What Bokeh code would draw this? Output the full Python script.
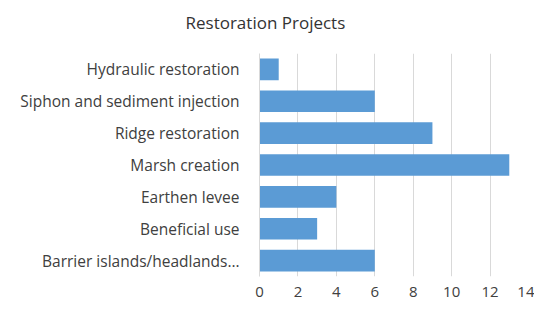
from bokeh.plotting import figure
from bokeh.models import FactorRange, Range1d, FixedTicker, Title
from bokeh.embed import file_html
from bokeh.resources import INLINE

categories = ["Barrier islands/headlands…", "Beneficial use", "Earthen levee",
              "Marsh creation", "Ridge restoration", "Siphon and sediment injection",
              "Hydraulic restoration"]
values = [6, 3, 4, 13, 9, 6, 1]
x_ticks = [0, 2, 4, 6, 8, 10, 12, 14]
title_text = "Restoration Projects"

FONT = "Open Sans"
TXT = "#404040"

p = figure(width=534, height=306, output_backend="svg", toolbar_location=None,
           y_range=FactorRange(*categories, range_padding=0),
           x_range=Range1d(0, 14),
           min_border_left=259, min_border_right=6, min_border_top=53, min_border_bottom=30)

p.hbar(y=categories, right=values, left=0, height=0.68, color="#5B9BD5", line_color=None)

# spacer between frame and title, then the title itself further out
spacer = Title(text=" ", text_font_size="1px", standoff=8)
p.add_layout(spacer, "above")
main_title = Title(text=title_text, align="left", offset=-74, standoff=14,
                   vertical_align="top", text_font=FONT, text_font_size="17px",
                   text_font_style="normal", text_color="#333333")
p.add_layout(main_title, "above")

p.outline_line_color = None
p.ygrid.grid_line_color = None
p.xgrid.grid_line_color = "#d9d9d9"
p.xgrid.grid_line_width = 1
p.xaxis.ticker = FixedTicker(ticks=x_ticks)
p.xaxis.axis_line_color = None
p.xaxis.major_tick_line_color = None
p.xaxis.minor_tick_line_color = None
p.xaxis.major_label_text_font = FONT
p.xaxis.major_label_text_font_size = "15px"
p.xaxis.major_label_text_color = TXT
p.xaxis.major_label_standoff = 4

p.yaxis.axis_line_color = "#d9d9d9"
p.yaxis.major_tick_line_color = None
p.yaxis.minor_tick_line_color = None
p.yaxis.major_label_text_font = FONT
p.yaxis.major_label_text_font_size = "15.5px"
p.yaxis.major_label_text_color = TXT
p.yaxis.major_label_standoff = 14

open("out.html", "w").write(file_html(p, INLINE))
